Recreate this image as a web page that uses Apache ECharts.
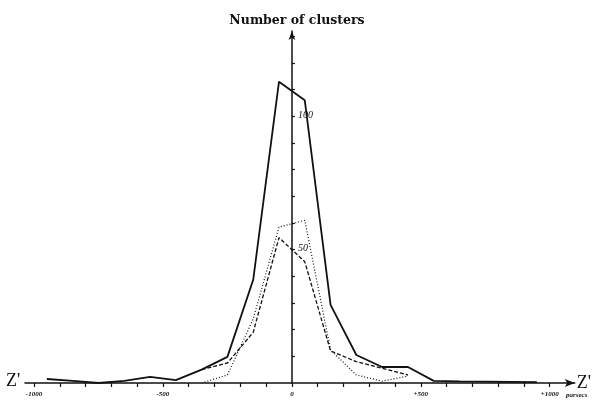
<!DOCTYPE html>
<html>
<head>
<meta charset="utf-8">
<script src="https://cdn.jsdelivr.net/npm/echarts@6/dist/echarts.min.js"></script>
<style>
  html, body { margin: 0; padding: 0; background: #fff; }
  #chart { width: 594px; height: 403px; }
</style>
</head>
<body>
<div id="chart"></div>
<script>
// bin centres, parsecs (100 pc bins)
const binCenters = [-950, -850, -750, -650, -550, -450, -350, -250, -150, -50,
                    50, 150, 250, 350, 450, 550, 650, 750, 850, 950];
// solid curve
const solidCounts = [1.5, 0.8, 0, 0.8, 2.3, 1.1, 5, 9.8, 38.7, 113,
                     106, 29.3, 10.5, 6, 6, 0.8, 0.6, 0.5, 0.4, 0.3];
// dashed curve
const dashedCounts = [null, null, null, null, null, null, 5, 7.5, 19, 54.5,
                      45.5, 12, 8, 5.5, 3, null, null, null, null, null];
// dotted curve
const dottedCounts = [null, null, null, null, null, null, 0, 3, 24, 58.5,
                      61, 12.4, 3, 0.7, 2.6, null, null, null, null, null];

const xTicks = [-1000, -900, -800, -700, -600, -500, -400, -300, -200, -100, 0,
                100, 200, 300, 400, 500, 600, 700, 800, 900, 1000];
const xLabels = [-1000, -500, 0, 500, 1000];
const yTicks = [10, 20, 30, 40, 50, 60, 70, 80, 90, 100, 110, 120, 130];
const yLabels = [50, 100];

const pairs = arr => binCenters.map((x, i) => [x, arr[i]]);

let myChart = echarts.init(document.getElementById('chart'));
const ink = '#111';

let option = {
  backgroundColor: '#fff',
  animation: false,
  title: {
    text: 'Number of clusters',
    left: 'center',
    top: 9,
    textStyle: { fontFamily: 'DejaVu Serif', fontWeight: 'bold', fontSize: 12.5, color: ink }
  },
  grid: { left: 25, right: 17, top: 31, bottom: 20 },
  xAxis: {
    type: 'value',
    min: -1035,
    max: 1097,
    name: "Z'",
    nameLocation: 'end',
    nameGap: 2,
    nameTextStyle: { fontFamily: 'Liberation Serif', fontSize: 18, color: ink },
    splitLine: { show: false },
    axisLine: { onZero: false, symbol: ['none', 'arrow'], symbolSize: [6, 10], lineStyle: { color: ink, width: 1.5 } },
    axisTick: { customValues: xTicks, length: 4, lineStyle: { color: ink, width: 1.2 } },
    axisLabel: {
      customValues: xLabels,
      margin: 8,
      fontSize: 7,
      fontStyle: 'italic',
      fontWeight: 'bold',
      fontFamily: 'Liberation Serif',
      color: ink,
      formatter: v => (v > 0 ? '+' + v : String(v))
    }
  },
  yAxis: {
    type: 'value',
    min: 0,
    max: 132,
    splitLine: { show: false },
    axisLine: { onZero: true, symbol: ['none', 'arrow'], symbolSize: [5, 9], lineStyle: { color: ink, width: 1.5 } },
    axisTick: { customValues: yTicks, inside: true, length: 3, lineStyle: { color: ink, width: 1.2 } },
    axisLabel: { show: false }
  },
  series: [
    {
      name: 'solid', type: 'line', symbol: 'none',
      lineStyle: { color: ink, width: 1.8 },
      data: pairs(solidCounts)
    },
    {
      name: 'dashed', type: 'line', symbol: 'none',
      lineStyle: { color: ink, width: 1.3, type: [4, 2] },
      data: pairs(dashedCounts)
    },
    {
      name: 'dotted', type: 'line', symbol: 'none',
      lineStyle: { color: ink, width: 1.2, type: [1, 2] },
      data: pairs(dottedCounts)
    }
  ]
};
myChart.setOption(option);

// y labels sit just right of the vertical axis at x = 0
let labelEls = yLabels.map(v => {
  let p = myChart.convertToPixel({ gridIndex: 0 }, [0, v]);
  return {
    type: 'text', x: p[0] + 6, y: p[1] - 6,
    style: { text: String(v), font: 'italic 10px "Liberation Serif"', fill: ink }
  };
});
myChart.setOption({
  graphic: [
    { type: 'text', left: 6, top: 372, style: { text: "Z'", font: '18px "Liberation Serif"', fill: ink } },
    { type: 'text', left: 566, top: 392, style: { text: 'parsecs', font: 'italic bold 7px "Liberation Serif"', fill: ink } }
  ].concat(labelEls)
});
</script>
</body>
</html>
